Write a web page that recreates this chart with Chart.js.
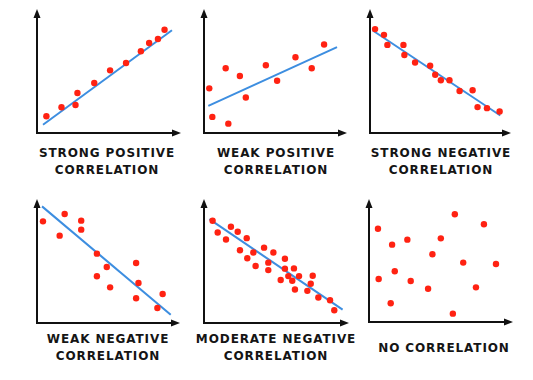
<!DOCTYPE html>
<html><head><meta charset="utf-8">
<script src="https://cdn.jsdelivr.net/npm/chart.js@4/dist/chart.umd.min.js"></script>
<style>
html,body{margin:0;padding:0;background:#fff;width:533px;height:380px;overflow:hidden;position:relative}
.cv{position:absolute}
.lbl{position:absolute;font-family:"DejaVu Sans",sans-serif;font-weight:bold;font-size:12px;letter-spacing:0.9px;color:#151515;text-align:center;white-space:nowrap;line-height:17px;transform:translateX(-50%)}
</style></head><body>
<script>
// Panel titles
const titles = [
  ["STRONG POSITIVE", "CORRELATION"],
  ["WEAK POSITIVE", "CORRELATION"],
  ["STRONG NEGATIVE", "CORRELATION"],
  ["WEAK NEGATIVE", "CORRELATION"],
  ["MODERATE NEGATIVE", "CORRELATION"],
  ["NO CORRELATION"]
];
// Scatter points (x, y on 0-10 scale)
const strongPosX = [0.67,1.75,2.75,2.89,4.09,5.22,6.36,7.42,8.01,8.64,9.11];
const strongPosY = [1.39,2.14,2.33,3.33,4.17,5.22,5.83,6.81,7.50,7.83,8.61];
const strongPosLineX = [0.43,9.64];
const strongPosLineY = [0.69,8.56];

const weakPosX = [0.38,0.60,1.56,1.75,2.58,3.01,4.45,5.26,6.58,7.75,8.64];
const weakPosY = [3.72,1.34,5.39,0.78,4.75,2.96,5.64,4.36,6.31,5.39,7.37];
const weakPosLineX = [0.31,9.57];
const weakPosLineY = [2.26,7.15];

const strongNegX = [0.37,1.02,1.27,2.44,2.51,3.29,4.39,4.76,5.17,5.80,6.54,7.49,7.85,8.54,9.46];
const strongNegY = [8.66,8.18,7.34,7.34,6.50,5.88,5.60,4.85,4.40,4.40,3.50,3.56,2.16,2.07,1.79];
const strongNegLineX = [0.20,9.51];
const strongNegLineY = [8.54,1.46];

const weakNegX = [0.43,1.63,1.99,3.18,3.18,4.31,5.02,4.31,5.26,7.13,7.30,7.13,9.04,8.66];
const weakNegY = [8.47,7.28,9.08,8.53,7.78,5.78,4.67,3.89,2.97,5.00,3.33,2.06,2.42,1.25];
const weakNegLineX = [0.36,9.62];
const weakNegLineY = [9.72,0.69];

const modNegX = [0.61,0.97,1.56,1.91,2.39,3.03,2.55,3.50,3.07,3.66,4.26,4.56,4.92,4.56,5.74,5.74,5.44,5.98,6.38,6.26,6.74,6.45,7.57,7.71,7.33,8.11,8.94,9.24];
const modNegY = [8.52,7.54,6.96,8.02,7.60,7.07,6.06,5.87,5.39,4.75,6.28,5.03,5.87,4.41,5.36,4.53,3.58,3.91,4.55,3.52,3.91,2.79,3.27,3.94,2.68,2.12,1.90,1.06];
const modNegLineX = [0.38,9.83];
const modNegLineY = [8.66,1.12];

const noCorrX = [0.64,1.65,2.74,5.13,6.13,8.21,4.53,6.73,9.07,1.84,0.69,2.98,4.22,7.64,1.55,5.99];
const noCorrY = [7.84,6.50,6.92,7.03,9.05,8.21,5.69,4.99,4.87,4.26,3.61,3.45,2.80,2.91,1.57,0.70];

const panels = [
  {ax:37, top:13, right:177, ay:133, lx:107, ly:145, px:strongPosX, py:strongPosY, lnx:strongPosLineX, lny:strongPosLineY},
  {ax:204, top:13, right:343, ay:133, lx:276, ly:145, px:weakPosX, py:weakPosY, lnx:weakPosLineX, lny:weakPosLineY},
  {ax:370, top:13, right:507, ay:133, lx:441, ly:145, px:strongNegX, py:strongNegY, lnx:strongNegLineX, lny:strongNegLineY},
  {ax:37, top:203, right:176, ay:323, lx:108, ly:331, px:weakNegX, py:weakNegY, lnx:weakNegLineX, lny:weakNegLineY},
  {ax:204, top:203, right:345, ay:323, lx:276, ly:331, px:modNegX, py:modNegY, lnx:modNegLineX, lny:modNegLineY},
  {ax:369, top:203, right:509, ay:322, lx:444, ly:340, px:noCorrX, py:noCorrY, lnx:null, lny:null}
];

const arrowPlugin = {
  id:'arrows',
  afterDraw(chart){
    const {ctx, chartArea:a} = chart;
    ctx.save();
    ctx.fillStyle = '#111';
    ctx.beginPath();
    ctx.moveTo(a.left, a.top - 4);
    ctx.lineTo(a.left - 3.5, a.top + 5);
    ctx.lineTo(a.left + 3.5, a.top + 5);
    ctx.closePath(); ctx.fill();
    ctx.beginPath();
    ctx.moveTo(a.right + 4, a.bottom);
    ctx.lineTo(a.right - 5, a.bottom - 3.5);
    ctx.lineTo(a.right - 5, a.bottom + 3.5);
    ctx.closePath(); ctx.fill();
    ctx.restore();
  }
};

panels.forEach((p, i) => {
  const padL = 10, padT = 8, padR = 8, padB = 4;
  const c = document.createElement('canvas');
  c.className = 'cv';
  const w = p.right - p.ax + padL + padR;
  const h = p.ay - p.top + padT + padB;
  c.style.left = (p.ax - padL) + 'px';
  c.style.top = (p.top - padT) + 'px';
  c.style.width = w + 'px';
  c.style.height = h + 'px';
  c.width = w; c.height = h;
  document.body.appendChild(c);

  const lbl = document.createElement('div');
  lbl.className = 'lbl';
  lbl.style.left = p.lx + 'px';
  lbl.style.top = p.ly + 'px';
  lbl.innerHTML = titles[i].join('<br>');
  document.body.appendChild(lbl);

  const datasets = [{
    type:'scatter',
    data: p.px.map((x, k) => ({x, y: p.py[k]})),
    pointRadius: 3.2,
    pointBackgroundColor: '#ff2212',
    pointBorderWidth: 0,
    order: 1
  }];
  if (p.lnx) {
    datasets.push({
      type:'line',
      data: p.lnx.map((x, k) => ({x, y: p.lny[k]})),
      borderColor: '#3d8ee0',
      borderWidth: 2,
      pointRadius: 0,
      fill: false,
      order: 2
    });
  }
  new Chart(c, {
    type:'scatter',
    data:{datasets},
    options:{
      responsive:false,
      animation:false,
      devicePixelRatio:1,
      layout:{padding:{left:padL, top:padT, right:padR, bottom:padB}},
      plugins:{legend:{display:false}, tooltip:{enabled:false}},
      scales:{
        x:{type:'linear', min:0, max:10, display:true,
           grid:{display:false, drawTicks:false},
           ticks:{display:false},
           border:{display:true, color:'#111', width:2}},
        y:{type:'linear', min:0, max:10, display:true,
           grid:{display:false, drawTicks:false},
           ticks:{display:false},
           border:{display:true, color:'#111', width:2}}
      }
    },
    plugins:[arrowPlugin]
  });
});
</script>
</body></html>
